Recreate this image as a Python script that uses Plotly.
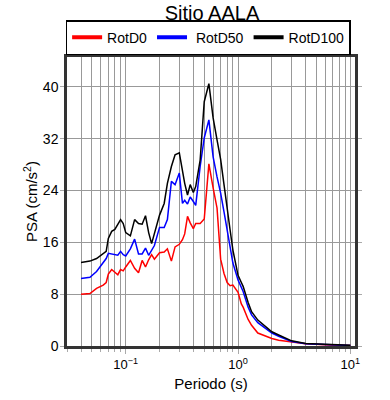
import plotly.graph_objects as go
import math

periods = [0.04, 0.048, 0.055, 0.063, 0.067, 0.07, 0.075, 0.08, 0.085, 0.09,
           0.095, 0.10, 0.11, 0.12, 0.13, 0.14, 0.15, 0.16, 0.17, 0.18,
           0.20, 0.22, 0.235, 0.255, 0.275, 0.30, 0.32, 0.335, 0.355, 0.375,
           0.40, 0.42, 0.46, 0.50, 0.55, 0.60, 0.65, 0.70, 0.75, 0.80,
           0.85, 0.90, 1.0, 1.07, 1.11, 1.23, 1.32, 1.5, 1.75, 2.0,
           2.3, 3.0, 4.0, 6.5, 10.0]

rotd0 = [8.0, 8.1, 8.9, 9.4, 9.8, 11.1, 11.8, 11.4, 11.0, 11.8,
         11.6, 12.2, 13.2, 12.0, 11.3, 13.2, 12.2, 13.3, 14.1, 13.4,
         14.4, 14.5, 15.0, 13.1, 15.3, 15.7, 16.4, 17.3, 20.0, 19.0,
         18.1, 18.9, 18.9, 19.6, 28.1, 24.4, 21.3, 13.4, 11.2, 9.8,
         9.3, 9.4, 8.3, 6.5, 6.0, 4.1, 3.2, 2.0, 1.5, 1.15,
         0.9, 0.65, 0.35, 0.15, 0.08]

rotd50 = [10.4, 10.6, 11.5, 12.8, 13.5, 14.3, 14.2, 14.1, 14.0, 14.6,
          14.1, 13.9, 15.0, 16.5, 14.2, 14.2, 15.1, 14.0, 14.9, 15.5,
          18.3, 18.3, 19.5, 25.4, 24.9, 26.7, 22.0, 22.5, 21.9, 23.0,
          22.3, 21.7, 27.7, 32.1, 34.9, 29.2, 26.1, 23.6, 20.7, 17.9,
          15.3, 12.8, 10.2, 9.0, 8.4, 6.0, 4.8, 3.6, 2.7, 2.0,
          1.5, 0.7, 0.35, 0.15, 0.08]

rotd100 = [12.9, 13.1, 13.5, 14.2, 14.6, 16.6, 17.7, 18.0, 18.7, 19.5,
           18.9, 17.5, 17.0, 19.5, 18.9, 18.8, 20.1, 17.5, 15.8, 17.4,
           20.2, 22.0, 25.1, 27.7, 29.5, 29.8, 26.9, 25.1, 23.3, 24.9,
           23.7, 24.6, 28.7, 37.7, 40.5, 35.2, 31.8, 28.8, 24.9, 21.0,
           17.9, 14.8, 10.9, 9.8, 9.2, 6.7, 5.3, 4.0, 3.0, 2.2,
           1.7, 0.8, 0.4, 0.18, 0.1]

series_names = ["RotD0", "RotD50", "RotD100"]
legend_labels = ["RotD0", "\u00a0RotD50", "RotD100"]
series_colors = ["#ff0000", "#0000ff", "#000000"]
x_tickvals = [0.1, 1, 10]
x_ticktext = ["10<sup>\u22121</sup>", "10<sup>0</sup>", "10<sup>1</sup>"]
y_tickvals = [0, 8, 16, 24, 32, 40]

fig = go.Figure()
for name, vals, col in zip(series_names, [rotd0, rotd50, rotd100], series_colors):
    fig.add_trace(go.Scatter(x=periods, y=vals, mode="lines", name=name,
                             line=dict(color=col, width=1.5), showlegend=False))
for name, col in zip(legend_labels, series_colors):
    fig.add_trace(go.Scatter(x=[None], y=[None], mode="lines", name=name,
                             line=dict(color=col, width=4), showlegend=True))

font_family = "Liberation Sans, Arial, sans-serif"
fig.update_layout(
    width=390, height=400,
    margin=dict(l=67, r=35, t=57, b=54, autoexpand=False),
    paper_bgcolor="white", plot_bgcolor="white",
    font=dict(family=font_family, size=13, color="black"),
    title=dict(text="Sitio AALA", x=0.5436, xanchor="center", y=0.984, yanchor="top",
               font=dict(size=20)),
    legend=dict(orientation="h", x=0.49, xanchor="center", y=1.006, yanchor="bottom",
                bordercolor="black", borderwidth=1.5, font=dict(size=14),
                itemwidth=30, tracegroupgap=0),
    showlegend=True,
)
fig.update_xaxes(
    type="log", range=[math.log10(0.03), math.log10(11)],
    tickvals=x_tickvals, ticktext=x_ticktext,
    ticks="outside", ticklen=5, tickcolor="#aaaaaa",
    showgrid=True, gridcolor="#999999", gridwidth=1,
    minor=dict(dtick="D1", showgrid=True, gridcolor="#999999", gridwidth=1,
               ticks="outside", ticklen=3, tickcolor="#aaaaaa"),
    showline=True, linecolor="#333333", linewidth=2.5, mirror="ticks",
    zeroline=False, automargin=False,
    title=dict(text="Periodo (s)", font=dict(size=15), standoff=8),
    tickfont=dict(size=13),
)
fig.update_yaxes(
    range=[0, 44.6], tickvals=y_tickvals,
    ticks="outside", ticklen=4, tickcolor="#aaaaaa",
    showgrid=True, gridcolor="#999999", gridwidth=1,
    showline=True, linecolor="#333333", linewidth=2.5, mirror="ticks",
    zeroline=False, automargin=False, ticklabelstandoff=-1,
    title=dict(text="PSA (cm/s<sup>2</sup>)", font=dict(size=15), standoff=2),
    tickfont=dict(size=14),
)
fig.write_html("out.html", config={"displayModeBar": False},
               post_script="document.body.style.margin='0';")
